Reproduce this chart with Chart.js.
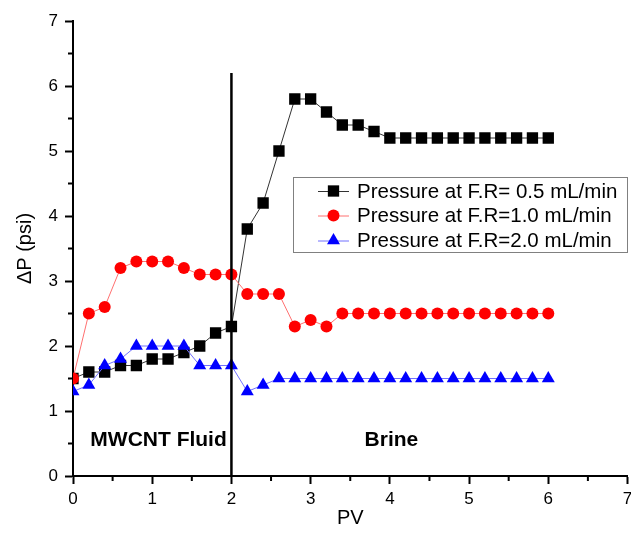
<!DOCTYPE html>
<html>
<head>
<meta charset="utf-8">
<script src="https://cdn.jsdelivr.net/npm/chart.js@4/dist/chart.umd.min.js"></script>
<style>
  html, body { margin: 0; padding: 0; background: #fff; overflow: hidden; }
  #wrap { width: 640px; height: 536px; position: relative; }
</style>
</head>
<body>
<div id="wrap"><canvas id="dpChart"></canvas></div>
<script>
// PV values (pore volumes injected)
const pv = [0, 0.2, 0.4, 0.6, 0.8, 1.0, 1.2, 1.4, 1.6, 1.8, 2.0, 2.2, 2.4, 2.6, 2.8, 3.0,
  3.2, 3.4, 3.6, 3.8, 4.0, 4.2, 4.4, 4.6, 4.8, 5.0, 5.2, 5.4, 5.6, 5.8, 6.0];

// pressure drop (psi) per flow rate
const dpRate05 = [1.5, 1.6, 1.6, 1.7, 1.7, 1.8, 1.8, 1.9, 2.0, 2.2, 2.3, 3.8, 4.2, 5.0, 5.8, 5.8,
  5.6, 5.4, 5.4, 5.3, 5.2, 5.2, 5.2, 5.2, 5.2, 5.2, 5.2, 5.2, 5.2, 5.2, 5.2];
const dpRate10 = [1.5, 2.5, 2.6, 3.2, 3.3, 3.3, 3.3, 3.2, 3.1, 3.1, 3.1, 2.8, 2.8, 2.8, 2.3, 2.4,
  2.3, 2.5, 2.5, 2.5, 2.5, 2.5, 2.5, 2.5, 2.5, 2.5, 2.5, 2.5, 2.5, 2.5, 2.5];
const dpRate20 = [1.3, 1.4, 1.7, 1.8, 2.0, 2.0, 2.0, 2.0, 1.7, 1.7, 1.7, 1.3, 1.4, 1.5, 1.5, 1.5,
  1.5, 1.5, 1.5, 1.5, 1.5, 1.5, 1.5, 1.5, 1.5, 1.5, 1.5, 1.5, 1.5, 1.5, 1.5];

const seriesLabels = [
  "Pressure at F.R= 0.5 mL/min",
  "Pressure at F.R=1.0 mL/min",
  "Pressure at F.R=2.0 mL/min",
];

// boundary between the fluid slug and brine
const dividerX = [2, 2];
const dividerY = [0, 6.2];

// region labels: [text, x, y]
const regionLabels = [
  ["MWCNT Fluid", 1.08, 0.55],
  ["Brine", 4.02, 0.55],
];

const FONT = '"Liberation Sans", Arial, sans-serif';
Chart.defaults.font.family = FONT;
Chart.defaults.color = "#000";

const toPoints = (ys) => ys.map((y, i) => ({ x: pv[i], y: y }));

const styles = [
  { line: "#333333", fill: "#000000", pointStyle: "rect", radius: 8 },
  { line: "#ff7070", fill: "#ff0000", pointStyle: "circle", radius: 6 },
  { line: "#7070ff", fill: "#0000ff", pointStyle: "triangle", radius: 7.5 },
];

function seriesDataset(ys, i) {
  const s = styles[i];
  return {
    label: seriesLabels[i],
    data: toPoints(ys),
    borderColor: s.line,
    borderWidth: 1,
    backgroundColor: s.fill,
    pointBackgroundColor: s.fill,
    pointBorderColor: s.fill,
    pointBorderWidth: 0,
    pointStyle: s.pointStyle,
    pointRadius: s.radius,
    pointHoverRadius: s.radius,
    order: 3 - i,
  };
}

// short minor ticks at the half units
const minorTicks = {
  id: "minorTicks",
  afterDraw(chart) {
    const { ctx, scales } = chart;
    const x = scales.x, y = scales.y;
    ctx.save();
    ctx.strokeStyle = "#000";
    ctx.lineWidth = 2;
    ctx.beginPath();
    for (let v = 0.5; v < 7; v += 1) {
      const px = x.getPixelForValue(v);
      ctx.moveTo(px, x.top);
      ctx.lineTo(px, x.top + 5);
      const py = y.getPixelForValue(v);
      ctx.moveTo(y.right, py);
      ctx.lineTo(y.right - 5, py);
    }
    ctx.stroke();
    ctx.restore();
  },
};

// bold region names inside the plot
const regionText = {
  id: "regionText",
  afterDatasetsDraw(chart) {
    const { ctx, scales } = chart;
    ctx.save();
    ctx.font = "bold 21px " + FONT;
    ctx.fillStyle = "#000";
    ctx.textAlign = "center";
    ctx.textBaseline = "middle";
    regionLabels.forEach(([t, x, y]) => {
      ctx.fillText(t, scales.x.getPixelForValue(x), scales.y.getPixelForValue(y));
    });
    ctx.restore();
  },
};

// boxed legend in the right half, like the original figure
const boxLegend = {
  id: "boxLegend",
  afterDraw(chart) {
    const { ctx } = chart;
    const box = { left: 293, top: 177, right: 627, bottom: 252 };
    const rows = [191, 215.5, 240.5];
    ctx.save();
    ctx.fillStyle = "#fff";
    ctx.fillRect(box.left, box.top, box.right - box.left, box.bottom - box.top);
    ctx.strokeStyle = "#808080";
    ctx.lineWidth = 1;
    ctx.strokeRect(box.left + 0.5, box.top + 0.5, box.right - box.left, box.bottom - box.top);
    ctx.font = "20.5px " + FONT;
    ctx.textAlign = "left";
    ctx.textBaseline = "middle";
    rows.forEach((ry, i) => {
      const s = styles[i];
      ctx.strokeStyle = s.line;
      ctx.lineWidth = 1;
      ctx.beginPath();
      ctx.moveTo(318, ry + 0.5);
      ctx.lineTo(349, ry + 0.5);
      ctx.stroke();
      ctx.fillStyle = s.fill;
      ctx.strokeStyle = s.fill;
      Chart.helpers.drawPoint(ctx, { pointStyle: s.pointStyle, radius: s.radius, borderWidth: 0, rotation: 0 }, 333.5, ry);
      ctx.fillStyle = "#000";
      ctx.fillText(seriesLabels[i], 357, ry + 1);
    });
    ctx.restore();
  },
};

const axisBase = {
  type: "linear",
  min: 0,
  max: 7,
  border: { display: true, color: "#000", width: 2 },
  grid: { drawOnChartArea: false, drawTicks: true, tickLength: 8, tickWidth: 2, tickColor: "#000" },
};

new Chart(document.getElementById("dpChart"), {
  type: "line",
  data: {
    datasets: [
      seriesDataset(dpRate05, 0),
      seriesDataset(dpRate10, 1),
      seriesDataset(dpRate20, 2),
      {
        label: "divider",
        data: dividerX.map((x, i) => ({ x: x, y: dividerY[i] })),
        borderColor: "#000",
        borderWidth: 2.5,
        pointRadius: 0,
        order: 0,
      },
    ],
  },
  options: {
    responsive: true,
    maintainAspectRatio: false,
    animation: false,
    layout: { padding: { top: 21, right: 12.5, left: 0, bottom: 0 } },
    plugins: {
      legend: { display: false },
      tooltip: { enabled: false },
    },
    scales: {
      x: Object.assign({}, axisBase, {
        ticks: { stepSize: 1, padding: 5, font: { size: 17 } },
        title: { display: true, text: "PV", font: { size: 20 }, padding: { top: 0, bottom: 6 } },
        afterFit: (scale) => { scale.height = 60; },
      }),
      y: Object.assign({}, axisBase, {
        ticks: { stepSize: 1, padding: 7, font: { size: 17 } },
        title: { display: true, text: "ΔP (psi)", font: { size: 20 }, padding: { top: 13, bottom: 0 } },
        afterFit: (scale) => { scale.width = 73; },
      }),
    },
  },
  plugins: [minorTicks, regionText, boxLegend],
});
</script>
</body>
</html>
